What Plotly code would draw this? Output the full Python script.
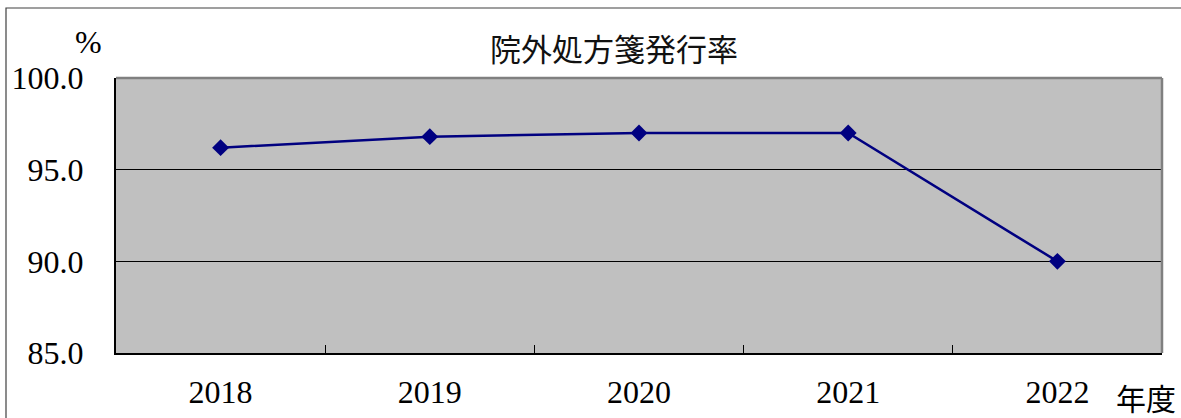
import plotly.graph_objects as go

years = ["2018", "2019", "2020", "2021", "2022"]
rates = [96.2, 96.8, 97.0, 97.0, 90.0]
y_tickvals = [85, 90, 95, 100]
y_ticktext = ["85.0", "90.0", "95.0", "100.0"]
title_text = "院外処方箋発行率"
y_unit = "%"
x_unit = "年度"

W, H = 1181, 418
L, R, T, B = 116, 1162, 78, 353

def px(x):
    return (x - L) / (R - L)

def py(y):
    return (B - y) / (B - T)

serif = "Liberation Serif, Times New Roman, serif"
cjk = "Noto Sans CJK JP, sans-serif"

fig = go.Figure()
fig.add_trace(go.Scatter(
    x=years, y=rates, mode="lines+markers",
    line=dict(color="#000080", width=2.5),
    marker=dict(symbol="diamond", size=13, color="#000080"),
    showlegend=False, cliponaxis=False,
))

fig.update_layout(
    width=W, height=H,
    margin=dict(l=L, r=W - R, t=T, b=H - B, pad=0, autoexpand=False),
    paper_bgcolor="white",
    plot_bgcolor="#C0C0C0",
    xaxis=dict(
        type="category", range=[-0.5, 4.5], automargin=False,
        showline=True, linecolor="black", linewidth=2,
        ticks="inside", ticklen=8, tickcolor="black", tickwidth=1,
        tickson="boundaries", showgrid=False,
        tickfont=dict(family=serif, size=32, color="black"),
        ticklabelstandoff=10,
    ),
    yaxis=dict(
        range=[85, 100], tickvals=y_tickvals, ticktext=y_ticktext,
        automargin=False,
        showline=True, linecolor="black", linewidth=2,
        ticks="inside", ticklen=8, tickcolor="black", tickwidth=1,
        showgrid=True, gridcolor="black", gridwidth=1,
        zeroline=False,
        tickfont=dict(family=serif, size=32, color="black"),
        ticklabelstandoff=24,
    ),
    shapes=[
        dict(type="line", xref="paper", yref="paper", x0=0, x1=1, y0=1, y1=1,
             line=dict(color="#808080", width=2.5), layer="above"),
        dict(type="line", xref="paper", yref="paper", x0=1, x1=1, y0=0, y1=1,
             line=dict(color="#808080", width=2.5), layer="above"),
        dict(type="rect", xref="paper", yref="paper",
             x0=px(6), x1=px(1195), y0=py(8), y1=py(430),
             line=dict(color="#404040", width=1.2), layer="below"),
    ],
    annotations=[
        dict(text=title_text, xref="paper", yref="paper", x=px(614), y=py(48),
             xanchor="center", yanchor="middle", showarrow=False,
             font=dict(family=cjk, size=31, color="#111111")),
        dict(text=y_unit, xref="paper", yref="paper", x=px(88), y=py(42),
             xanchor="center", yanchor="middle", showarrow=False,
             font=dict(family=serif, size=32, color="black")),
        dict(text=x_unit, xref="paper", yref="paper", x=px(1146), y=py(397),
             xanchor="center", yanchor="middle", showarrow=False,
             font=dict(family=cjk, size=30, color="black")),
    ],
)

fig.write_html("out.html", config={"displayModeBar": False},
               post_script="document.body.style.margin='0';document.body.style.overflow='hidden';")
